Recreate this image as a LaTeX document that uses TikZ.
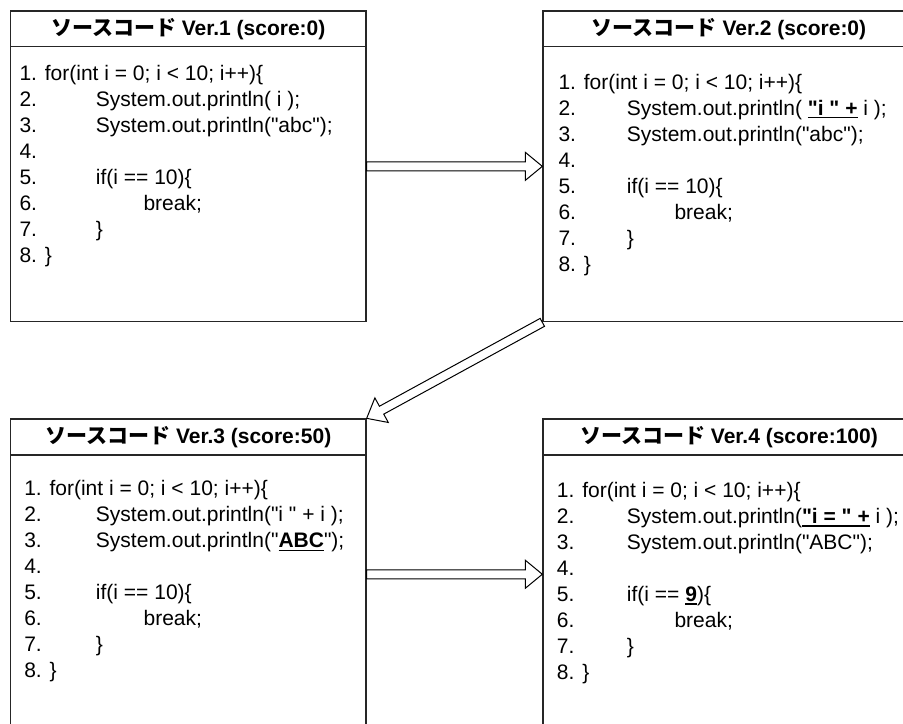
\documentclass[tikz,border=0pt]{standalone}
\usepackage{fontspec}
\setmainfont{Liberation Sans}[Ligatures=TeXOff]
\newfontfamily\cjk{Noto Sans CJK JP}
\usetikzlibrary{calc,fit}

\newcommand\codefont{\fontsize{15.75pt}{19.5pt}\selectfont}
\newsavebox\ulbox
\newcommand\myul[1]{\sbox\ulbox{#1}\rlap{\rule[-2.4pt]{\wd\ulbox}{1.1pt}}\usebox\ulbox}
\newcommand\ulb[1]{\myul{\textbf{#1}}}

\tikzset{
  boxframe/.style={draw=black!85, line width=1pt, inner sep=0pt},
  headtext/.style={font=\codefont\bfseries, inner sep=0pt},
  codetext/.style={font=\codefont, inner sep=0pt, anchor=base west},
  blockline/.style={draw=black, line width=0.75pt, fill=white, line join=miter},
}

\newcommand\blockarrow[3]{%
  \coordinate (#1h) at ($(#3)!12.75pt!(#2)$);
  \draw[blockline] ($(#2)!3.375pt!90:(#3)$) -- ($(#1h)!3.375pt!90:(#3)$)
    -- ($(#1h)!10.5pt!90:(#3)$) -- (#3) -- ($(#1h)!10.5pt!-90:(#3)$)
    -- ($(#1h)!3.375pt!-90:(#3)$) -- ($(#2)!3.375pt!-90:(#3)$) -- cycle;
}

\begin{document}
\begin{tikzpicture}[x=0.75pt, y=-0.75pt]
\useasboundingbox (0,0) rectangle (903,724);
\clip (0,0) rectangle (903,724);

% boxes
\node[boxframe, fit={(10.5,11) (366,321.5)}] (b1) {};
\node[boxframe, fit={(10.5,11) (366,46.7)}] (h1) {};
\node[boxframe, fit={(543,11) (915,321.7)}] (b2) {};
\node[boxframe, fit={(543,11) (915,46.7)}] (h2) {};
\node[boxframe, fit={(10.5,419) (366,729.5)}] (b3) {};
\node[boxframe, fit={(10.5,419) (366,455)}] (h3) {};
\node[boxframe, fit={(543,419) (915,729.5)}] (b4) {};
\node[boxframe, fit={(543,419) (915,455)}] (h4) {};

% headers
\node[headtext] (t1) at (h1.center) {{\cjk ソースコード} Ver.1 (score:0)};
\node[headtext] (t2) at (h2.center) {{\cjk ソースコード} Ver.2 (score:0)};
\node[headtext] (t3) at (h3.center) {{\cjk ソースコード} Ver.3 (score:50)};
\node[headtext] (t4) at (h4.center) {{\cjk ソースコード} Ver.4 (score:100)};

% code 1
\node[codetext] (c1) at (19.3,80.2) {\begin{tabular}[t]{@{}p{57.3pt}@{}l@{}}
\multicolumn{2}{@{}l@{}}{1. for(int i = 0; i < 10; i++)\{}\\
2. & System.out.println( i );\\
3. & System.out.println("abc");\\
4. & \\
5. & if(i == 10)\{\\
6. & \hspace{35.7pt}break;\\
7. & \}\\
\multicolumn{2}{@{}l@{}}{8. \}}
\end{tabular}};

% code 2
\node[codetext] (c2) at (558.3,89.2) {\begin{tabular}[t]{@{}p{51.3pt}@{}l@{}}
\multicolumn{2}{@{}l@{}}{1. for(int i = 0; i < 10; i++)\{}\\
2. & System.out.println( \ulb{"i " +} i );\\
3. & System.out.println("abc");\\
4. & \\
5. & if(i == 10)\{\\
6. & \hspace{35.7pt}break;\\
7. & \}\\
\multicolumn{2}{@{}l@{}}{8. \}}
\end{tabular}};

% code 3
\node[codetext] (c3) at (24,495.8) {\begin{tabular}[t]{@{}p{53.8pt}@{}l@{}}
\multicolumn{2}{@{}l@{}}{1. for(int i = 0; i < 10; i++)\{}\\
2. & System.out.println("i " + i );\\
3. & System.out.println("\ulb{ABC}");\\
4. & \\
5. & if(i == 10)\{\\
6. & \hspace{35.7pt}break;\\
7. & \}\\
\multicolumn{2}{@{}l@{}}{8. \}}
\end{tabular}};

% code 4
\node[codetext] (c4) at (556.7,497.5) {\begin{tabular}[t]{@{}p{52.5pt}@{}l@{}}
\multicolumn{2}{@{}l@{}}{1. for(int i = 0; i < 10; i++)\{}\\
2. & System.out.println(\ulb{"i = " +} i );\\
3. & System.out.println("ABC");\\
4. & \\
5. & if(i == \ulb{9})\{\\
6. & \hspace{35.7pt}break;\\
7. & \}\\
\multicolumn{2}{@{}l@{}}{8. \}}
\end{tabular}};

% arrows
\blockarrow{a1}{b1.east}{b2.west}
\blockarrow{a2}{b2.south west}{b3.north east}
\blockarrow{a3}{b3.east}{b4.west}
\end{tikzpicture}
\end{document}
